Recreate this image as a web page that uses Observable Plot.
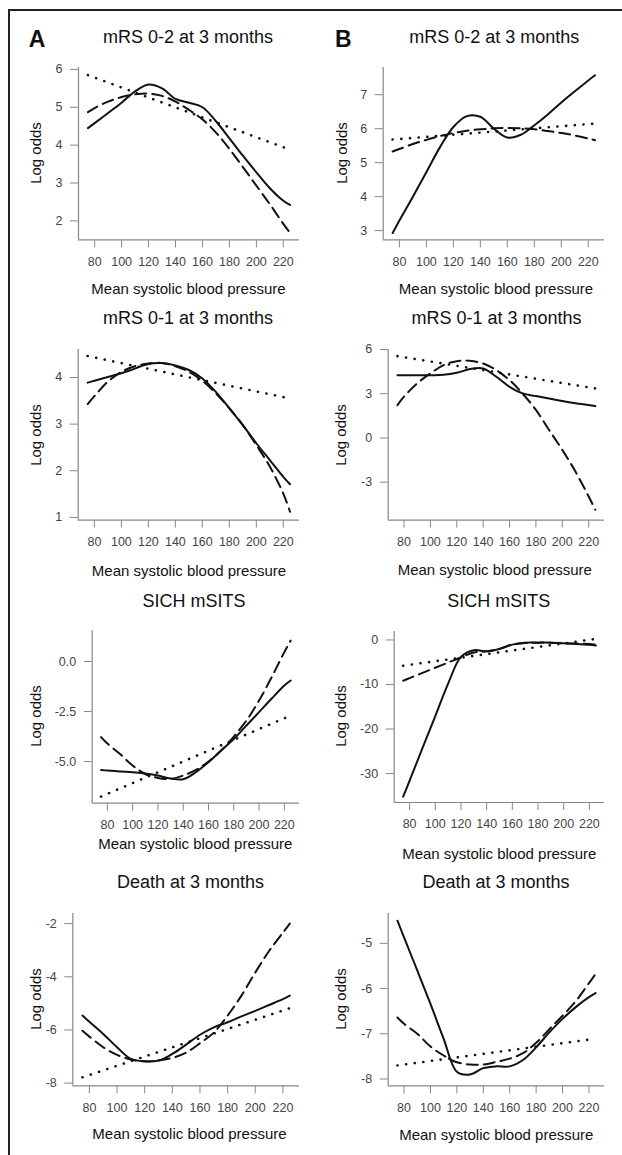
<!DOCTYPE html>
<html><head><meta charset="utf-8">
<script src="https://cdn.jsdelivr.net/npm/d3@7"></script>
<script src="https://cdn.jsdelivr.net/npm/@observablehq/plot@0.6"></script>
<style>
body{margin:0;background:#fff;}
#root{position:relative;width:622px;height:1155px;overflow:hidden;background:#fff;font-family:"Liberation Sans",Arial,sans-serif;}
#frame{position:absolute;left:8px;top:9px;width:640px;height:1180px;border-left:2px solid #222;border-top:2px solid #222;}
.t{position:absolute;transform:translate(-50%,-50%);line-height:1;white-space:nowrap;color:#111;}
.rot{transform:translate(-50%,-50%) rotate(-90deg);}
#root svg{position:absolute;}
</style></head><body><div id="root"><div id="frame"></div></div>
<script>
// Blood pressure grid at which curves are read
const bp = [75, 80, 90, 100, 110, 120, 130, 140, 150, 160, 170, 180, 190, 200, 210, 220, 225];
const bpEnds = [75, 225];
const xTicks = [80, 100, 120, 140, 160, 180, 200, 220];

// Column A
const a1Solid  = [4.45, 4.58, 4.85, 5.12, 5.42, 5.6, 5.5, 5.22, 5.12, 5.0, 4.63, 4.18, 3.72, 3.28, 2.86, 2.53, 2.42];
const a1Dashed = [4.87, 4.98, 5.15, 5.27, 5.34, 5.36, 5.3, 5.15, 4.93, 4.68, 4.33, 3.9, 3.42, 2.93, 2.44, 1.92, 1.68];
const a1Dotted = [5.85, 3.88];
const a1YTicks = [2, 3, 4, 5, 6];

const a2Solid  = [3.89, 3.93, 4.01, 4.09, 4.19, 4.29, 4.31, 4.26, 4.16, 3.98, 3.69, 3.34, 2.98, 2.59, 2.23, 1.87, 1.71];
const a2Dashed = [3.43, 3.6, 3.91, 4.12, 4.24, 4.3, 4.31, 4.24, 4.12, 3.93, 3.66, 3.34, 2.98, 2.55, 2.09, 1.51, 1.12];
const a2Dotted = [4.46, 3.55];
const a2YTicks = [1, 2, 3, 4];

const a3Solid  = [-5.42, -5.45, -5.5, -5.53, -5.6, -5.7, -5.85, -5.88, -5.53, -5.03, -4.45, -3.87, -3.2, -2.53, -1.85, -1.2, -0.95];
const a3Dashed = [-3.78, -4.1, -4.62, -5.2, -5.62, -5.82, -5.87, -5.7, -5.42, -5.0, -4.45, -3.75, -2.95, -1.95, -0.78, 0.47, 1.05];
const a3Dotted = [-6.75, -2.7];
const a3YTicks = [-5, -2.5, 0];

const a4Solid  = [-5.46, -5.69, -6.15, -6.65, -7.09, -7.18, -7.15, -6.9, -6.55, -6.18, -5.9, -5.71, -5.49, -5.28, -5.06, -4.84, -4.71];
const a4Dashed = [-6.03, -6.25, -6.65, -6.94, -7.11, -7.18, -7.15, -7.05, -6.85, -6.5, -6.1, -5.46, -4.71, -3.84, -3.03, -2.34, -2.0];
const a4Dotted = [-7.78, -5.18];
const a4YTicks = [-8, -6, -4, -2];

// Column B
const b1Solid  = [2.93, 3.3, 4.0, 4.72, 5.45, 6.05, 6.37, 6.35, 6.0, 5.74, 5.82, 6.1, 6.42, 6.77, 7.1, 7.42, 7.57];
const b1Dashed = [5.33, 5.4, 5.55, 5.67, 5.78, 5.87, 5.94, 5.98, 6.01, 6.02, 6.01, 5.98, 5.93, 5.87, 5.8, 5.71, 5.66];
const b1Dotted = [5.68, 6.15];
const b1YTicks = [3, 4, 5, 6, 7];

const b2Solid  = [4.26, 4.26, 4.26, 4.26, 4.28, 4.42, 4.67, 4.71, 4.15, 3.47, 3.02, 2.84, 2.68, 2.5, 2.35, 2.23, 2.16];
const b2Dashed = [2.23, 2.8, 3.7, 4.38, 4.94, 5.21, 5.23, 5.05, 4.6, 3.92, 3.0, 1.9, 0.54, -0.81, -2.28, -3.97, -4.87];
const b2Dotted = [5.55, 3.36];
const b2YTicks = [-3, 0, 3, 6];

const b3Solid  = [-35.2, -31.6, -24.3, -17.1, -9.8, -3.8, -2.3, -2.55, -2.0, -1.05, -0.6, -0.6, -0.6, -0.75, -0.9, -1.1, -1.25];
const b3Dashed = [-9.15, -8.57, -7.4, -6.23, -5.07, -3.9, -2.8, -2.55, -2.0, -1.05, -0.68, -0.6, -0.6, -0.75, -0.8, -0.9, -1.05];
const b3Dotted = [-5.78, 0.23];
const b3YTicks = [-30, -20, -10, 0];

const b4Solid  = [-4.5, -4.87, -5.6, -6.34, -7.11, -7.84, -7.9, -7.76, -7.72, -7.72, -7.58, -7.3, -6.97, -6.67, -6.41, -6.19, -6.1];
const b4Dashed = [-6.64, -6.78, -7.0, -7.28, -7.48, -7.63, -7.68, -7.68, -7.62, -7.55, -7.43, -7.2, -6.9, -6.6, -6.28, -5.88, -5.68];
const b4Dotted = [-7.7, -7.11];
const b4YTicks = [-8, -7, -6, -5];

const titles = ["mRS 0-2 at 3 months", "mRS 0-1 at 3 months", "SICH mSITS", "Death at 3 months"];
const xLabel = "Mean systolic blood pressure";
const yLabel = "Log odds";
const xDomain = [68, 232];

// layout (plot-region boxes in page pixels) and per-panel scales
const panels = [
  {col:0, title:titles[0], box:[78,67,299,239.3], yDomain:[1.5,6.05], yTicks:a1YTicks, s:a1Solid, d:a1Dashed, o:a1Dotted, tx:188, ty:37, lx:35, xl:[188.5,288], fmt:d=>String(d)},
  {col:0, title:titles[1], box:[77.7,349.3,299,520], yDomain:[0.94,4.6], yTicks:a2YTicks, s:a2Solid, d:a2Dashed, o:a2Dotted, tx:188, ty:318.3, lx:35, xl:[189,569.5], fmt:d=>String(d)},
  {col:0, title:titles[2], box:[91.7,630,299,802.7], yDomain:[-7.08,1.55], yTicks:a3YTicks, s:a3Solid, d:a3Dashed, o:a3Dotted, tx:194, ty:600.8, lx:35, xl:[195.3,842.5], fmt:d=>d.toFixed(1)},
  {col:0, title:titles[3], box:[72.3,912.7,299,1085], yDomain:[-8.1,-1.62], yTicks:a4YTicks, s:a4Solid, d:a4Dashed, o:a4Dotted, tx:190.5, ty:881.7, lx:35, xl:[189.5,1132.5], fmt:d=>String(d)},
  {col:311, title:titles[0], box:[382.7,67,604,239.3], yDomain:[2.73,7.8], yTicks:b1YTicks, s:b1Solid, d:b1Dashed, o:b1Dotted, tx:494.3, ty:37, lx:341, xl:[496,288], fmt:d=>String(d)},
  {col:311, title:titles[1], box:[387.7,349.3,604,520], yDomain:[-5.58,6.0], yTicks:b2YTicks, s:b2Solid, d:b2Dashed, o:b2Dotted, tx:496.5, ty:317.5, lx:340, xl:[494.8,569], fmt:d=>String(d)},
  {col:311, title:titles[2], box:[393.7,630.7,604.3,801.7], yDomain:[-36.5,1.9], yTicks:b3YTicks, s:b3Solid, d:b3Dashed, o:b3Dotted, tx:498.8, ty:600.8, lx:340, xl:[499.3,852.5], fmt:d=>String(d)},
  {col:311, title:titles[3], box:[387.7,912.7,604.3,1085], yDomain:[-8.15,-4.34], yTicks:b4YTicks, s:b4Solid, d:b4Dashed, o:b4Dotted, tx:496, ty:882, lx:340, xl:[496.3,1134], fmt:d=>String(d)}
];

const root = document.getElementById("root");
function addText(txt, x, y, size, extra) {
  const el = document.createElement("div");
  el.className = "t" + (extra && extra.rot ? " rot" : "");
  el.textContent = txt;
  el.style.left = x + "px";
  el.style.top = y + "px";
  el.style.fontSize = size + "px";
  if (extra && extra.bold) el.style.fontWeight = "bold";
  root.appendChild(el);
}

const pts = (xs, ys) => ys.map((v, i) => ({x: xs[i], y: v}));

for (const p of panels) {
  const [L, T, R, B] = p.box;
  const mt = 12, mb = 45;
  const ml = L - p.col, mr = p.col + 311 - R;
  const h = B - T;
  const chart = Plot.plot({
    width: 311,
    height: h + mt + mb,
    marginLeft: ml, marginRight: mr, marginTop: mt, marginBottom: mb,
    x: {domain: xDomain},
    y: {domain: p.yDomain},
    style: {fontFamily: "'Liberation Sans', Arial, sans-serif", background: "transparent", overflow: "visible"},
    marks: [
      Plot.axisX({ticks: xTicks, tickSize: 8, tickPadding: 9, fontSize: 12.5, stroke: "#888", fill: "#444", label: null, tickFormat: d => String(d)}),
      Plot.axisY({ticks: p.yTicks, tickSize: 8, tickPadding: 8, fontSize: 12.5, stroke: "#888", fill: "#444", label: null, tickFormat: p.fmt}),
      Plot.ruleX([xDomain[0]], {stroke: "#888", strokeWidth: 1.2}),
      Plot.ruleY([p.yDomain[0]], {stroke: "#888", strokeWidth: 1.2}),
      Plot.line(pts(bpEnds, p.o), {x: "x", y: "y", stroke: "#111", strokeWidth: 2.6, strokeDasharray: "0.1,8.6", strokeLinecap: "round"}),
      Plot.line(pts(bp, p.d), {x: "x", y: "y", curve: "catmull-rom", stroke: "#111", strokeWidth: 2, strokeDasharray: "11,6"}),
      Plot.line(pts(bp, p.s), {x: "x", y: "y", curve: "catmull-rom", stroke: "#111", strokeWidth: 2})
    ]
  });
  chart.style.left = p.col + "px";
  chart.style.top = (T - mt) + "px";
  root.appendChild(chart);
  addText(p.title, p.tx, p.ty, 18);
  addText(xLabel, p.xl[0], p.xl[1], 15);
  addText(yLabel, p.lx, (T + B) / 2, 15, {rot: true});
}
addText("A", 37, 39, 23, {bold: true});
addText("B", 343.3, 39, 23, {bold: true});
</script>
</body></html>
